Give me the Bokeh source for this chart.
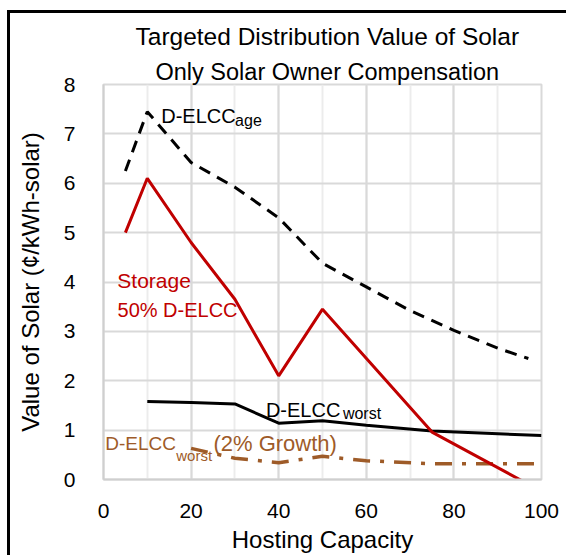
from bokeh.plotting import figure
from bokeh.models import Label, Title, SingleIntervalTicker
from bokeh.embed import file_html
from bokeh.resources import INLINE

# ---- data ----
x_age = [5, 10, 20, 30, 40, 50, 60, 70, 80, 90, 97]
y_age = [6.25, 7.45, 6.42, 5.92, 5.3, 4.38, 3.9, 3.42, 3.02, 2.66, 2.45]

x_storage = [5, 10, 20, 30, 40, 50, 75, 100]
y_storage = [5.0, 6.1, 4.8, 3.65, 2.1, 3.45, 0.96, -0.24]

x_worst = [10, 20, 30, 40, 50, 60, 75, 100]
y_worst = [1.58, 1.56, 1.53, 1.14, 1.19, 1.10, 0.98, 0.89]

x_growth = [20, 30, 40, 50, 60, 75, 100]
y_growth = [0.63, 0.43, 0.34, 0.47, 0.38, 0.32, 0.32]

title_lines = ["Targeted Distribution Value of Solar", "Only Solar Owner Compensation"]
x_title = "Hosting Capacity"
y_title = "Value of Solar (¢/kWh-solar)"

FONT = "Liberation Sans"
RED = "#C00000"
BROWN = "#9E5B28"

p = figure(width=559, height=545, x_range=(0, 100), y_range=(0, 8),
           output_backend="svg", toolbar_location=None,
           min_border_left=93, min_border_right=28,
           min_border_top=71, min_border_bottom=79)
# black chart-area border on the left and top, as in the reference
p.styles = {"margin-left": "7px", "margin-top": "10px",
            "border-left": "3px solid black", "border-top": "3px solid black"}

p.background_fill_color = "white"
p.border_fill_color = "white"
p.outline_line_color = "#D9D9D9"
p.outline_line_width = 2

p.xaxis.ticker = SingleIntervalTicker(interval=20, num_minor_ticks=2)
p.yaxis.ticker = SingleIntervalTicker(interval=1, num_minor_ticks=0)

p.xgrid.grid_line_color = "#D9D9D9"
p.xgrid.grid_line_width = 2
p.xgrid.minor_grid_line_color = "#ECECEC"
p.xgrid.minor_grid_line_width = 2
p.ygrid.grid_line_color = "#D9D9D9"
p.ygrid.grid_line_width = 2

for ax in (p.xaxis[0], p.yaxis[0]):
    ax.major_tick_line_color = None
    ax.minor_tick_line_color = None
    ax.axis_line_color = "#CFCFCF"
    ax.axis_line_width = 2
    ax.major_label_text_font = FONT
    ax.major_label_text_font_size = "21px"
    ax.major_label_text_color = "black"
    ax.axis_label_text_font = FONT
    ax.axis_label_text_font_size = "24px"
    ax.axis_label_text_font_style = "normal"
    ax.axis_label_text_color = "black"

p.xaxis.axis_label = x_title
p.yaxis.axis_label = y_title
p.xaxis.major_label_standoff = 18
p.xaxis.axis_label_standoff = 5
p.yaxis.major_label_standoff = 22
p.yaxis.axis_label_standoff = 17

# ---- series ----
p.line(x_growth, y_growth, line_color=BROWN, line_width=3.5, line_dash="17 10 4 10")
p.line(x_worst, y_worst, line_color="black", line_width=3)
p.line(x_age, y_age, line_color="black", line_width=3, line_dash="12 8")
p.line(x_storage, y_storage, line_color=RED, line_width=3)

# ---- title (two lines) ----
p.add_layout(Title(text=title_lines[1], align="left", offset=52, standoff=0,
                   text_font=FONT, text_font_size="23.5px", text_font_style="normal",
                   text_color="black"), "above")
p.add_layout(Title(text=title_lines[0], align="left", offset=32, standoff=13,
                   text_font=FONT, text_font_size="24.5px", text_font_style="normal",
                   text_color="black"), "above")

# ---- in-plot labels ----
def lab(x, y, text, color, size):
    p.add_layout(Label(x=x, y=y, text=text, text_align="left", text_baseline="alphabetic",
                       text_font=FONT, text_font_size=size, text_color=color))

lab(13.17, 7.37, "D-ELCC", "black", "20px")
lab(30.05, 7.27, "age", "black", "16px")
lab(3.15, 4.04, "Storage", RED, "21px")
lab(3.2, 3.44, "50% D-ELCC", RED, "20px")
lab(37.08, 1.41, "D-ELCC", "black", "20px")
lab(54.66, 1.336, "worst", "black", "16px")
lab(0.39, 0.72, "D-ELCC", BROWN, "19px")
lab(16.6, 0.486, "worst", BROWN, "15px")
lab(25.1, 0.72, "(2% Growth)", BROWN, "22px")

open("out.html", "w").write(file_html(p, INLINE))
